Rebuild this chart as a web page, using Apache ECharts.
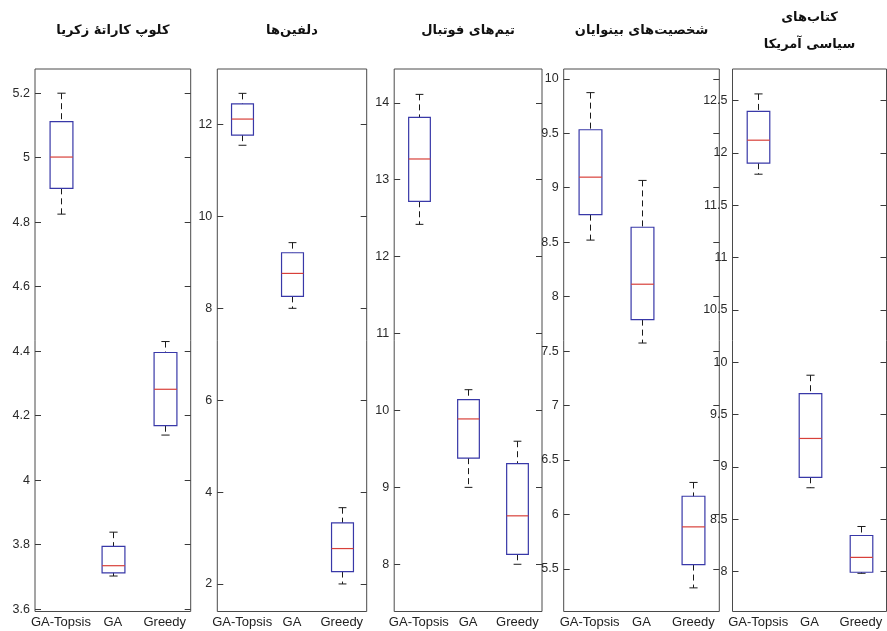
<!DOCTYPE html>
<html>
<head>
<meta charset="utf-8">
<script src="https://cdn.jsdelivr.net/npm/echarts@6/dist/echarts.min.js"></script>
<style>html,body{margin:0;padding:0;background:#fff}#c{width:887px;height:631px}</style>
</head>
<body>
<div id="c"></div>
<script>
const categories = ['GA-Topsis', 'GA', 'Greedy'];
// each row: [lower whisker, Q1, median, Q3, upper whisker]
const karate   = [[4.825, 4.905, 5.002, 5.112, 5.200], [3.703, 3.713, 3.735, 3.795, 3.839], [4.140, 4.169, 4.282, 4.396, 4.430]];
const dolphins = [[11.55, 11.77, 12.12, 12.45, 12.68], [8.00, 8.26, 8.76, 9.21, 9.43], [2.00, 2.27, 2.77, 3.33, 3.66]];
const football = [[12.42, 12.72, 13.27, 13.81, 14.11], [9.00, 9.38, 9.89, 10.14, 10.27], [8.00, 8.13, 8.63, 9.31, 9.60]];
const lesmis   = [[8.519, 8.753, 9.097, 9.532, 9.873], [7.574, 7.789, 8.114, 8.637, 9.067], [5.326, 5.540, 5.886, 6.167, 6.294]];
const polbooks = [[11.795, 11.90, 12.12, 12.396, 12.562], [8.80, 8.90, 9.271, 9.70, 9.875], [7.983, 7.993, 8.135, 8.344, 8.43]];

const karateTicks   = [3.6, 3.8, 4, 4.2, 4.4, 4.6, 4.8, 5, 5.2];
const dolphinsTicks = [2, 4, 6, 8, 10, 12];
const footballTicks = [8, 9, 10, 11, 12, 13, 14];
const lesmisTicks   = [5.5, 6, 6.5, 7, 7.5, 8, 8.5, 9, 9.5, 10];
const polbooksTicks = [8, 8.5, 9, 9.5, 10, 10.5, 11, 11.5, 12, 12.5];

const karateRange   = [3.593, 5.275];
const dolphinsRange = [1.40, 13.21];
const footballRange = [7.386, 14.44];
const lesmisRange   = [5.109, 10.09];
const polbooksRange = [7.618, 12.80];

const titles = ['کلوپ کاراتهٔ زکریا', 'دلفین‌ها', 'تیم‌های فوتبال', 'شخصیت‌های بینوایان', 'کتاب‌های\nسیاسی آمریکا'];

const panels = [
  {data: karate, ticks: karateTicks, range: karateRange},
  {data: dolphins, ticks: dolphinsTicks, range: dolphinsRange},
  {data: football, ticks: footballTicks, range: footballRange},
  {data: lesmis, ticks: lesmisTicks, range: lesmisRange},
  {data: polbooks, ticks: polbooksTicks, range: polbooksRange}
];

// layout (pixels)
const gridBoxes = [[35, 155.7], [217.3, 149.4], [394.2, 147.8], [563.7, 155.6], [732.5, 154]];
const gridTop = 69, gridHeight = 542.5;

function renderBox(params, api) {
  const i = api.value(0);
  const lo = api.coord([i, api.value(1)]);
  const q1 = api.coord([i, api.value(2)]);
  const md = api.coord([i, api.value(3)]);
  const q3 = api.coord([i, api.value(4)]);
  const hi = api.coord([i, api.value(5)]);
  const band = api.size([1, 0])[0];
  const bw = band * 0.44;
  const cw = bw * 0.36;
  const x = Math.round(md[0]) + 0.5;
  const dash = {stroke: '#1a1a1a', lineWidth: 1, lineDash: [6, 4]};
  const solid = {stroke: '#1a1a1a', lineWidth: 1};
  return {
    type: 'group',
    children: [
      {type: 'line', shape: {x1: x, y1: hi[1], x2: x, y2: q3[1]}, style: dash},
      {type: 'line', shape: {x1: x, y1: q1[1], x2: x, y2: lo[1]}, style: dash},
      {type: 'line', shape: {x1: x - cw / 2, y1: hi[1], x2: x + cw / 2, y2: hi[1]}, style: solid},
      {type: 'line', shape: {x1: x - cw / 2, y1: lo[1], x2: x + cw / 2, y2: lo[1]}, style: solid},
      {type: 'rect', shape: {x: x - bw / 2, y: q3[1], width: bw, height: q1[1] - q3[1]},
        style: {fill: 'transparent', stroke: '#3838a8', lineWidth: 1.2}},
      {type: 'line', shape: {x1: x - bw / 2, y1: md[1], x2: x + bw / 2, y2: md[1]},
        style: {stroke: '#d8403a', lineWidth: 1.2}}
    ]
  };
}

const grid = [], xAxis = [], yAxis = [], series = [], graphic = [];
panels.forEach((p, k) => {
  const [left, width] = gridBoxes[k];
  grid.push({left: left, top: gridTop, width: width, height: gridHeight, show: true,
    borderColor: '#4a4a4a', borderWidth: 1, backgroundColor: 'transparent', containLabel: false});
  xAxis.push({type: 'category', gridIndex: k, data: categories, boundaryGap: true,
    axisLine: {show: false}, axisTick: {show: false}, splitLine: {show: false},
    axisLabel: {interval: 0, margin: 4, fontSize: 13, color: '#222', fontFamily: 'Liberation Sans, Arial, sans-serif'}});
  yAxis.push({type: 'value', gridIndex: k, position: 'left', min: p.range[0], max: p.range[1],
    axisLine: {show: false}, splitLine: {show: false},
    axisTick: {show: true, inside: true, length: 6, customValues: p.ticks, lineStyle: {color: '#3a3a3a'}},
    axisLabel: {show: true, margin: 5, customValues: p.ticks, fontSize: 12.5, color: '#2a2a2a',
      fontFamily: 'Liberation Sans, Arial, sans-serif'}});
  yAxis.push({type: 'value', gridIndex: k, position: 'right', min: p.range[0], max: p.range[1],
    axisLine: {show: false}, splitLine: {show: false},
    axisTick: {show: true, inside: true, length: 6, customValues: p.ticks, lineStyle: {color: '#3a3a3a'}},
    axisLabel: {show: false}});
  series.push({type: 'custom', xAxisIndex: k, yAxisIndex: 2 * k, renderItem: renderBox,
    encode: {x: 0, y: [1, 2, 3, 4, 5]}, silent: true, clip: false,
    data: p.data.map((r, i) => [i].concat(r))});
  const cx = left + width / 2;
  const multi = titles[k].indexOf('\n') >= 0;
  graphic.push({type: 'text', x: cx, y: multi ? 31 : 31,
    style: {text: titles[k], align: 'center', verticalAlign: 'middle', lineHeight: 27,
      font: 'bold 13px "DejaVu Sans", sans-serif', fill: '#111'}});
});

const chart = echarts.init(document.getElementById('c'));
chart.setOption({animation: false, backgroundColor: '#fff', grid, xAxis, yAxis, series, graphic});
</script>
</body>
</html>
